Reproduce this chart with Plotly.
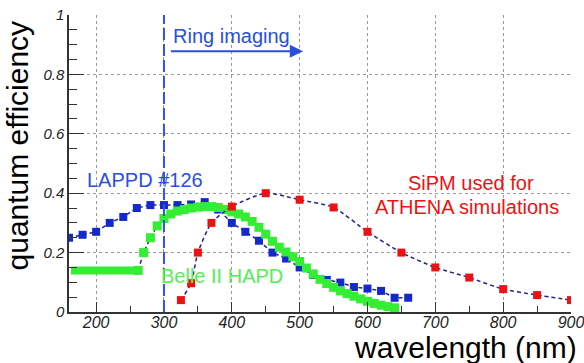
import plotly.graph_objects as go

# ---- data ----
lappd_wl = [160, 180, 200, 220, 240, 260, 280, 300, 320, 340, 360, 380, 400, 420, 440,
            460, 480, 500, 520, 540, 560, 580, 600, 620, 640, 660]
lappd_qe = [0.25, 0.26, 0.27, 0.30, 0.32, 0.35, 0.36, 0.36, 0.36, 0.362, 0.37, 0.345, 0.30,
            0.27, 0.24, 0.20, 0.18, 0.15, 0.125, 0.108, 0.099, 0.084, 0.079, 0.071, 0.048, 0.048]

hapd_flat_wl = [163, 262]
hapd_flat_qe = [0.14, 0.14]

hapd_wl = [262, 270, 280, 290, 300, 310, 320, 330, 340, 350, 360, 370, 380, 390, 400, 410,
           420, 430, 440, 450, 460, 470, 480, 490, 500, 510, 520, 530, 540, 550, 560, 570,
           580, 590, 600, 610, 620, 630, 640]
hapd_qe = [0.14, 0.20, 0.25, 0.29, 0.315, 0.33, 0.34, 0.345, 0.35, 0.353, 0.355, 0.355, 0.352,
           0.345, 0.337, 0.33, 0.32, 0.305, 0.285, 0.262, 0.238, 0.218, 0.202, 0.186, 0.17,
           0.148, 0.128, 0.11, 0.096, 0.083, 0.071, 0.062, 0.053, 0.044, 0.036, 0.029, 0.023,
           0.018, 0.014]

sipm_wl = [325, 340, 350, 370, 400, 450, 500, 550, 600, 650, 700, 750, 800, 850, 900]
sipm_qe = [0.04, 0.097, 0.20, 0.30, 0.355, 0.40, 0.378, 0.352, 0.27, 0.20, 0.15, 0.116,
           0.077, 0.057, 0.04]

x_ticks = [200, 300, 400, 500, 600, 700, 800, 900]
y_ticks = [0, 0.2, 0.4, 0.6, 0.8, 1]
y_ticklabels = ["0", "0.2", "0.4", "0.6", "0.8", "1"]

# ---- styles ----
LINE_C = "#23238f"
BLUE = "#1428cc"
GREEN = "#33ee33"
RED = "#ee1111"
TXT_BLUE = "#2a4fe0"
TXT_GREEN = "#55ee55"
FONT = "Liberation Sans, Arial, sans-serif"

fig = go.Figure()

fig.add_trace(go.Scatter(
    x=lappd_wl, y=lappd_qe, mode="lines+markers",
    line=dict(color=LINE_C, width=1.5, dash="4px,3px"),
    marker=dict(symbol="square", size=8, color=BLUE),
))
fig.add_trace(go.Scatter(
    x=hapd_flat_wl, y=hapd_flat_qe, mode="lines",
    line=dict(color=GREEN, width=8),
))
fig.add_trace(go.Scatter(
    x=hapd_wl, y=hapd_qe, mode="lines+markers",
    line=dict(color=LINE_C, width=1.5, dash="4px,3px"),
    marker=dict(symbol="square", size=9, color=GREEN),
))
fig.add_trace(go.Scatter(
    x=sipm_wl, y=sipm_qe, mode="lines+markers",
    line=dict(color=LINE_C, width=1.5, dash="4px,3px", shape="spline", smoothing=0.6),
    marker=dict(symbol="square", size=8, color=RED),
))

# vertical dashed line at 300 nm
fig.add_shape(type="line", x0=300, x1=300, y0=0, y1=1, xref="x", yref="y",
              line=dict(color="#3355dd", width=2, dash="12px,4px"))

# arrow "Ring imaging"
fig.add_annotation(x=505, y=0.878, ax=308, ay=0.878, xref="x", yref="y", axref="x", ayref="y",
                   showarrow=True, arrowhead=2, arrowsize=1.2, arrowwidth=2.2,
                   arrowcolor=TXT_BLUE, text="")
fig.add_annotation(x=400, y=0.93, xref="x", yref="y", text="Ring imaging", showarrow=False,
                   font=dict(family=FONT, size=20, color=TXT_BLUE))

fig.add_annotation(x=272, y=0.445, xref="x", yref="y", text="LAPPD #126", showarrow=False,
                   font=dict(family=FONT, size=20, color=TXT_BLUE))
fig.add_annotation(x=385, y=0.12, xref="x", yref="y", text="Belle II HAPD", showarrow=False,
                   font=dict(family=FONT, size=20, color=TXT_GREEN))
fig.add_annotation(x=752, y=0.435, xref="x", yref="y", text="SiPM used for", showarrow=False,
                   font=dict(family=FONT, size=20, color=RED))
fig.add_annotation(x=747, y=0.354, xref="x", yref="y", text="ATHENA simulations", showarrow=False,
                   font=dict(family=FONT, size=20, color=RED))

# axis titles
fig.add_annotation(x=-0.102, y=0.56, xref="paper", yref="paper", text="quantum efficiency",
                   textangle=-90, showarrow=False, xanchor="center", yanchor="middle",
                   font=dict(family=FONT, size=30, color="black"))
fig.add_annotation(x=1.015, y=-0.118, xref="paper", yref="paper", text="wavelength (nm)",
                   showarrow=False, xanchor="right", yanchor="middle",
                   font=dict(family=FONT, size=30, color="black"))

fig.update_layout(
    width=584, height=363,
    margin=dict(l=69, r=13, t=15, b=51),
    paper_bgcolor="white", plot_bgcolor="white",
    showlegend=False,
    font=dict(family=FONT),
)
fig.update_xaxes(
    range=[160, 900], tickvals=x_ticks, ticks="inside", ticklen=10, tickcolor="#333",
    showline=True, linecolor="#333", linewidth=1.5, mirror=False,
    showgrid=True, gridcolor="#999", griddash="dot", gridwidth=1,
    tickfont=dict(family=FONT, size=16, color="#222", style="italic"),
    ticklabelstandoff=-5, ticklabeloverflow="allow", automargin=False,
    minor=dict(ticks="inside", ticklen=6, dtick=50, tick0=200, tickcolor="#333", showgrid=False),
    zeroline=False,
)
fig.update_yaxes(
    range=[0, 1], tickvals=y_ticks, ticktext=y_ticklabels, ticks="inside", ticklen=15,
    tickcolor="#333",
    showline=True, linecolor="#333", linewidth=1.5, mirror=False,
    showgrid=True, gridcolor="#999", griddash="dot", gridwidth=1,
    tickfont=dict(family=FONT, size=15, color="#222", style="italic"),
    ticklabeloverflow="allow", automargin=False,
    minor=dict(ticks="inside", ticklen=8, dtick=0.05, tick0=0, tickcolor="#333", showgrid=False),
    zeroline=False,
)

fig.write_html("out.html")
